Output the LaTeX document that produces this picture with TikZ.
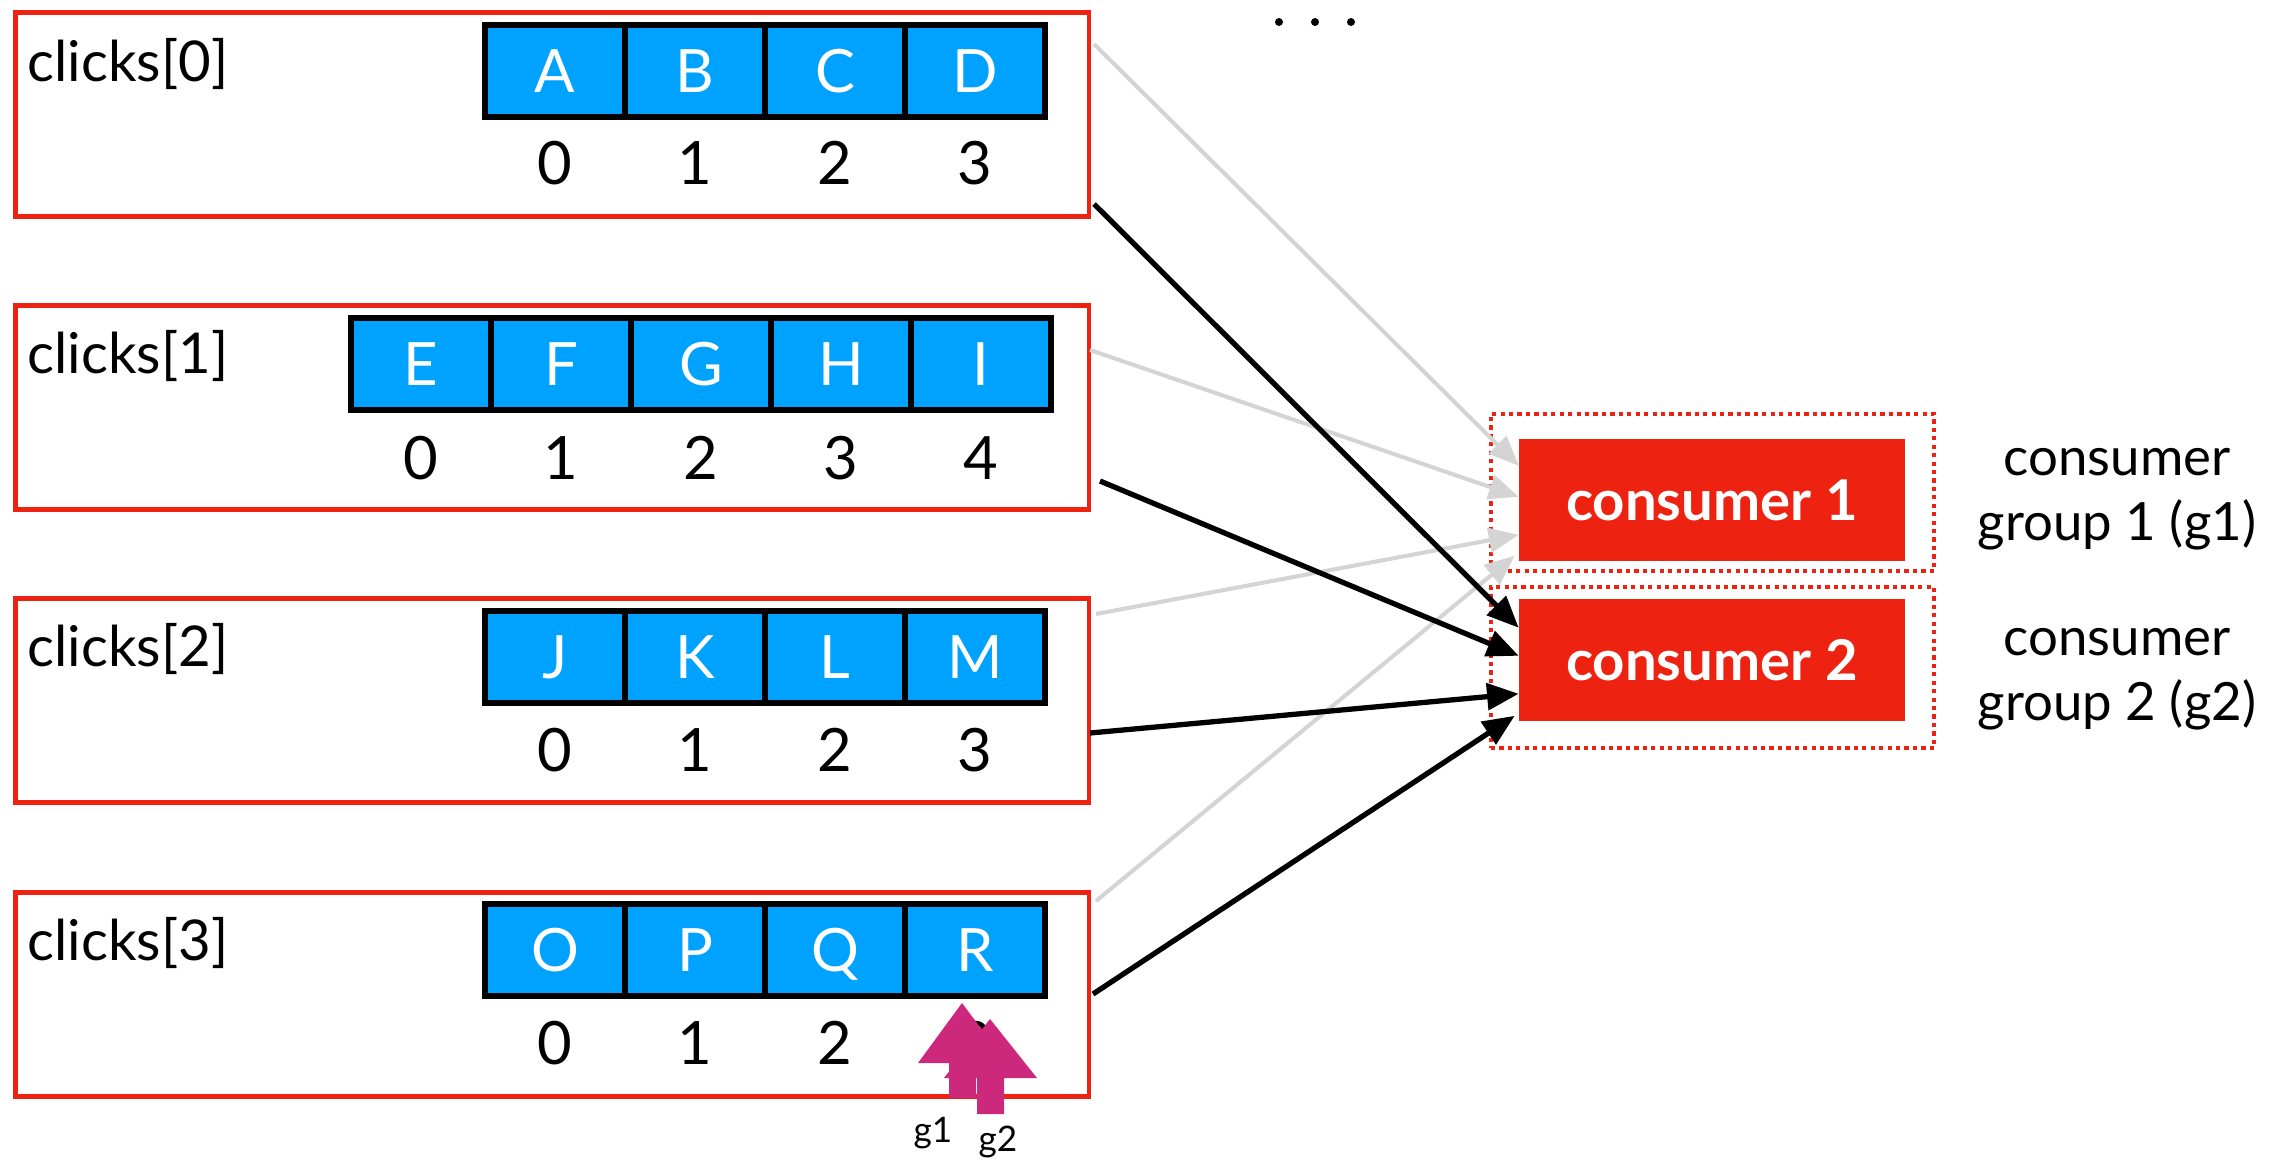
\documentclass[tikz,border=0pt]{standalone}
\usepackage{fontspec}
\setmainfont{Lato}
\usepackage{tikz}
\usetikzlibrary{arrows.meta,calc}

\definecolor{kred}{RGB}{238,34,17}
\definecolor{kblue}{RGB}{0,162,255}
\definecolor{kmag}{RGB}{204,41,124}
\definecolor{kgray}{RGB}{212,212,212}

\tikzset{
  part/.style={draw=kred, line width=1.3pt, minimum width=10.73cm, minimum height=2.04cm, anchor=north west, inner sep=0pt},
  cell/.style={draw=black, fill=kblue, line width=1.6pt, minimum width=1.4cm, minimum height=0.92cm, inner sep=0pt, text=white, font=\fontsize{17}{20}\selectfont, text height=12.2pt, text depth=0pt},
  idx/.style={inner sep=0pt, font=\fontsize{17}{20}\selectfont},
  topic/.style={anchor=west, inner sep=0pt, font=\fontsize{16}{19}\selectfont},
  consumer/.style={fill=kred, text=white, minimum width=3.85cm, minimum height=1.21cm, inner sep=0pt, text height=11.5pt, text depth=0pt, font=\fontsize{16}{19}\selectfont\bfseries},
  cgroup/.style={draw=kred, line width=1.2pt, dash pattern=on 1.2pt off 1.2pt, minimum width=4.43cm, inner sep=0pt},
  grouplbl/.style={align=center, inner sep=0pt, font=\fontsize{15}{18.5}\selectfont},
  feedgray/.style={draw=kgray, line width=1.15pt, -{Triangle[length=8.5pt,width=7pt]}},
  feedblack/.style={draw=black, line width=1.5pt, -{Triangle[length=9pt,width=7.5pt]}},
  tag/.style={inner sep=0pt, font=\fontsize{10}{12}\selectfont}
}

\begin{document}
\begin{tikzpicture}[x=0.01cm,y=-0.01cm]
\useasboundingbox (0,0) rectangle (2285,1160);

\node[part] (p0) at (13,10) {};
\node[part] (p1) at (13,303) {};
\node[part] (p2) at (13,596) {};
\node[part] (p3) at (13,890) {};

\node[topic] (n0) at (27,64) {clicks[0]};
\node[topic] (n1) at (27,356) {clicks[1]};
\node[topic] (n2) at (27,649) {clicks[2]};
\node[topic] (n3) at (27,943) {clicks[3]};

\node[cell] (a0) at (555,71) {A};
\node[cell] (a1) at (695,71) {B};
\node[cell] (a2) at (835,71) {C};
\node[cell] (a3) at (975,71) {D};
\node[idx] (i00) at (555,163) {0};
\node[idx] (i01) at (695,163) {1};
\node[idx] (i02) at (835,163) {2};
\node[idx] (i03) at (975,163) {3};

\node[cell] (b0) at (421,364) {E};
\node[cell] (b1) at (561,364) {F};
\node[cell] (b2) at (701,364) {G};
\node[cell] (b3) at (841,364) {H};
\node[cell] (b4) at (981,364) {I};
\node[idx] (i10) at (421,458) {0};
\node[idx] (i11) at (561,458) {1};
\node[idx] (i12) at (701,458) {2};
\node[idx] (i13) at (841,458) {3};
\node[idx] (i14) at (981,458) {4};

\node[cell] (c0) at (555,657) {J};
\node[cell] (c1) at (695,657) {K};
\node[cell] (c2) at (835,657) {L};
\node[cell] (c3) at (975,657) {M};
\node[idx] (i20) at (555,750) {0};
\node[idx] (i21) at (695,750) {1};
\node[idx] (i22) at (835,750) {2};
\node[idx] (i23) at (975,750) {3};

\node[cell] (d0) at (555,950) {O};
\node[cell] (d1) at (695,950) {P};
\node[cell] (d2) at (835,950) {Q};
\node[cell] (d3) at (975,950) {R};
\node[idx] (i30) at (555,1043) {0};
\node[idx] (i31) at (695,1043) {1};
\node[idx] (i32) at (835,1043) {2};
\node[idx] (i33) at (975,1043) {3};

\fill (1279,22) circle (4);
\fill (1315,22) circle (4);
\fill (1351,22) circle (4);

\node[cgroup, minimum height=1.57cm] (g1) at (1712.5,492.5) {};
\node[cgroup, minimum height=1.61cm] (g2) at (1712.5,667.5) {};
\node[consumer] (k1) at (1712,500) {consumer 1};
\node[consumer] (k2) at (1712,660) {consumer 2};
\node[grouplbl] (l1) at (2117,499) {consumer\\group 1 (g1)};
\node[grouplbl] (l2) at (2117,679) {consumer\\group 2 (g2)};

\coordinate (s0a) at (1094,44);
\coordinate (s0b) at (1094,204);
\coordinate (s1a) at (1090,350);
\coordinate (s1b) at (1100,481);
\coordinate (s2a) at (1096,614);
\coordinate (s2b) at (1090,733);
\coordinate (s3a) at (1096,901);
\coordinate (s3b) at (1093,994);

\draw[feedgray] (s0a) -- ($(k1.north west)+(0,27)$);
\draw[feedgray] (s1a) -- ($(k1.north west)+(0,58)$);
\draw[feedgray] (s2a) -- ($(k1.north west)+(0,96)$);
\draw[feedgray] (s3a) -- ($(k1.north west)+(-4,117)$);

\draw[feedblack] (s0b) -- ($(k2.north west)+(0,29)$);
\draw[feedblack] (s1b) -- ($(k2.north west)+(0,57)$);
\draw[feedblack] (s2b) -- ($(k2.north west)+(0,95)$);
\draw[feedblack] (s3b) -- ($(k2.north west)+(-4,117)$);

\fill[kmag] (962,1003) -- ++(45,60) -- ++(-31,0) -- ++(0,35) -- ++(-27,0) -- ++(0,-35) -- ++(-31,0) -- cycle;
\fill[kmag] (990,1019) -- ++(47,59) -- ++(-33,0) -- ++(0,36) -- ++(-27,0) -- ++(0,-36) -- ++(-33,0) -- cycle;
\node[tag] (o1) at (933,1133) {g1};
\node[tag] (o2) at (998,1142) {g2};
\end{tikzpicture}
\end{document}
